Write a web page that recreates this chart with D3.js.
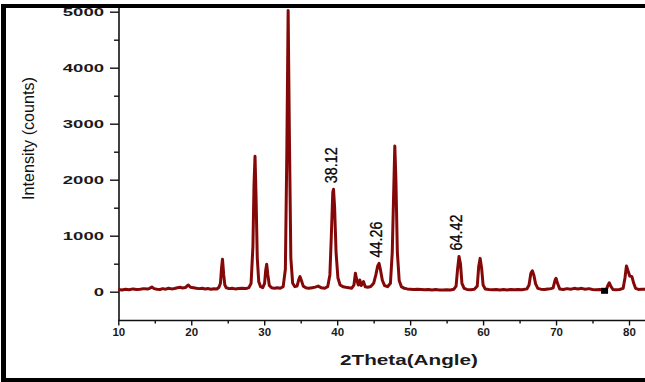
<!DOCTYPE html>
<html>
<head>
<meta charset="utf-8">
<script src="https://cdn.jsdelivr.net/npm/d3@7/dist/d3.min.js"></script>
<style>
  html, body { margin: 0; padding: 0; background: #fff; }
  svg { display: block; }
</style>
</head>
<body>
<svg id="chart" width="645" height="382"></svg>
<script>
// ---- data ----
const twoTheta = [10.0,10.5,11.0,11.5,12.0,12.5,13.0,13.5,14.0,14.3,14.6,14.9,15.3,15.7,16.1,16.5,16.9,17.3,17.7,18.1,18.5,18.8,19.2,19.6,19.9,20.3,20.7,21.1,21.5,21.9,22.3,22.7,23.1,23.5,23.8,24.0,24.15,24.28,24.45,24.6,24.8,25.2,25.6,26.0,26.5,27.0,27.5,27.9,28.2,28.45,28.6,28.74,28.88,29.05,29.25,29.5,29.8,30.05,30.2,30.34,30.5,30.7,31.0,31.4,31.8,32.2,32.6,32.9,33.1,33.28,33.45,33.65,33.9,34.2,34.5,34.75,34.9,35.1,35.35,35.7,36.1,36.6,37.0,37.4,37.8,38.3,38.7,39.0,39.2,39.4,39.5,39.65,39.85,40.1,40.4,40.8,41.2,41.6,42.0,42.3,42.5,42.7,42.9,43.1,43.3,43.6,43.85,44.2,44.6,45.0,45.3,45.55,45.74,45.95,46.2,46.5,46.9,47.3,47.55,47.75,47.9,48.05,48.25,48.5,48.8,49.2,49.6,50.0,50.5,51.0,51.5,52.0,52.5,53.0,53.5,54.0,54.5,55.0,55.5,56.0,56.3,56.5,56.7,56.9,57.1,57.4,57.8,58.3,58.8,59.2,59.4,59.6,59.8,60.0,60.3,60.8,61.3,61.8,62.3,62.8,63.3,63.8,64.3,64.8,65.3,65.7,66.0,66.3,66.55,66.75,66.95,67.2,67.5,67.9,68.4,68.9,69.3,69.6,69.85,70.0,70.2,70.5,71.0,71.5,72.0,72.5,73.0,73.5,74.0,74.5,75.0,75.5,76.0,76.5,76.9,77.1,77.3,77.5,77.8,78.2,78.7,79.2,79.45,79.65,79.85,80.1,80.4,80.65,80.9,81.3,81.8,82.4];
const intensity = [40,30,45,35,50,38,45,55,48,60,85,55,45,40,55,45,62,50,58,70,80,65,75,120,80,70,60,55,62,48,56,42,52,48,80,150,420,580,300,120,70,55,62,50,56,60,55,72,150,800,1900,2420,1700,600,180,90,72,150,380,490,300,110,72,60,70,62,90,400,2500,5020,2800,600,150,90,100,220,270,200,100,72,60,72,82,100,72,62,90,300,1000,1780,1830,1500,700,250,120,90,80,72,62,120,330,200,120,210,110,180,90,80,92,150,300,460,505,380,200,110,90,150,700,1800,2600,2000,700,200,90,60,50,45,40,45,40,35,40,30,38,32,30,35,30,45,100,400,630,500,150,60,40,35,45,100,450,595,420,120,50,40,35,40,30,38,30,40,35,40,35,42,50,120,330,375,300,140,60,45,40,50,55,70,200,240,150,50,40,55,45,60,50,60,45,55,40,35,40,30,40,110,160,100,40,35,40,60,250,460,380,280,270,150,60,40,45,40];
const yTickValues = [0, 1000, 2000, 3000, 4000, 5000];
const yMinorValues = [500, 1500, 2500, 3500, 4500];
const xTickValues = [10, 20, 30, 40, 50, 60, 70, 80];
const xMinorValues = [15, 25, 35, 45, 55, 65, 75, 85];
const peakLabels = ["38.12", "44.26", "64.42"];
const peakX = [39.5, 45.74, 56.7];
const peakI = [1830, 505, 630];
const markerX = [76.65];
const markerI = [16];
const xTitle = "2Theta(Angle)";
const yTitle = "Intensity (counts)";

// ---- drawing ----
const svg = d3.select("#chart");
const x = d3.scaleLinear().domain([10, 80]).range([118.3, 629]);
const y = d3.scaleLinear().domain([-500, 5000]).range([319.7, 11.7]);
const lineColor = "#850808";
const tickFont = "'Liberation Sans', Arial, sans-serif";
const narrowFont = "'Liberation Sans Narrow', 'Arial Narrow', 'Liberation Sans', Arial, sans-serif";

// y axis (major)
const yAxis = svg.append("g").attr("transform", "translate(119,0)")
  .call(d3.axisLeft(y).tickValues(yTickValues).tickSize(9).tickSizeOuter(0).tickPadding(6).tickFormat(d3.format("d")));
yAxis.select(".domain").remove();
yAxis.selectAll(".tick line").attr("stroke", "#111").attr("stroke-width", 1.4);
yAxis.selectAll(".tick text")
  .attr("font-family", tickFont).attr("font-weight", "bold").attr("font-size", 11)
  .attr("fill", "#1a1a1a")
  .attr("textLength", d => String(d).length * 10.3)
  .attr("lengthAdjust", "spacingAndGlyphs");
// y axis minor
const yMinor = svg.append("g").attr("transform", "translate(119,0)")
  .call(d3.axisLeft(y).tickValues(yMinorValues).tickSize(5).tickSizeOuter(0).tickFormat(""));
yMinor.select(".domain").remove();
yMinor.selectAll(".tick line").attr("stroke", "#111").attr("stroke-width", 1.4);

// x axis (major)
const xAxis = svg.append("g").attr("transform", "translate(0,320.5)")
  .call(d3.axisBottom(x).tickValues(xTickValues).tickSize(5).tickSizeOuter(0).tickPadding(2).tickFormat(d3.format("d")));
xAxis.select(".domain").remove();
xAxis.selectAll(".tick line").attr("stroke", "#111").attr("stroke-width", 1.4);
xAxis.selectAll(".tick text")
  .attr("font-family", tickFont).attr("font-weight", "bold").attr("font-size", 11.5)
  .attr("fill", "#1a1a1a");
const xMinor = svg.append("g").attr("transform", "translate(0,320.5)")
  .call(d3.axisBottom(x).tickValues(xMinorValues).tickSize(3).tickSizeOuter(0).tickFormat(""));
xMinor.select(".domain").remove();
xMinor.selectAll(".tick line").attr("stroke", "#111").attr("stroke-width", 1.4);

// axis lines
svg.append("line").attr("x1", 119).attr("x2", 119).attr("y1", 8).attr("y2", 321)
  .attr("stroke", "#111").attr("stroke-width", 1.6);
svg.append("line").attr("x1", 118).attr("x2", 645).attr("y1", 320.5).attr("y2", 320.5)
  .attr("stroke", "#111").attr("stroke-width", 1.6);

// data line
const pts = twoTheta.map((t, i) => [t, intensity[i]]);
svg.append("path")
  .datum(pts)
  .attr("fill", "none")
  .attr("stroke", lineColor)
  .attr("stroke-width", 3)
  .attr("stroke-linejoin", "round")
  .attr("d", d3.line().x(d => x(d[0])).y(d => y(d[1])));

// black square marker
svg.selectAll("rect.mk").data(markerX.map((m, i) => [m, markerI[i]])).enter()
  .append("rect").attr("class", "mk")
  .attr("x", d => x(d[0]) - 3.5).attr("y", d => y(d[1]) - 3)
  .attr("width", 7).attr("height", 6).attr("fill", "#000");

// peak labels
peakLabels.forEach((lab, i) => {
  svg.append("text")
    .attr("transform", `translate(${x(peakX[i]) - 3},${y(peakI[i]) - 24}) rotate(-90)`)
    .attr("text-anchor", "middle")
    .attr("dy", "0.36em")
    .attr("font-family", narrowFont)
    .attr("font-size", 17)
    .attr("fill", "#000")
    .attr("stroke", "#000").attr("stroke-width", 0.3)
    .attr("textLength", 36)
    .attr("lengthAdjust", "spacingAndGlyphs")
    .text(lab);
});

// axis titles
svg.append("text")
  .attr("x", 409).attr("y", 365)
  .attr("text-anchor", "middle")
  .attr("font-family", tickFont).attr("font-weight", "bold").attr("font-size", 15)
  .attr("fill", "#1a1a1a")
  .attr("textLength", 138).attr("lengthAdjust", "spacingAndGlyphs")
  .text(xTitle);
svg.append("text")
  .attr("transform", "translate(28,138.5) rotate(-90)")
  .attr("text-anchor", "middle").attr("dy", "0.36em")
  .attr("font-family", narrowFont).attr("font-size", 17)
  .attr("fill", "#111")
  .attr("textLength", 123).attr("lengthAdjust", "spacingAndGlyphs")
  .text(yTitle);

// frame
svg.append("rect").attr("x", 1).attr("y", 4).attr("width", 644).attr("height", 4).attr("fill", "#000");
svg.append("rect").attr("x", 1).attr("y", 4).attr("width", 5).attr("height", 378).attr("fill", "#000");
svg.append("rect").attr("x", 1).attr("y", 378).attr("width", 644).attr("height", 4).attr("fill", "#000");
</script>
</body>
</html>
